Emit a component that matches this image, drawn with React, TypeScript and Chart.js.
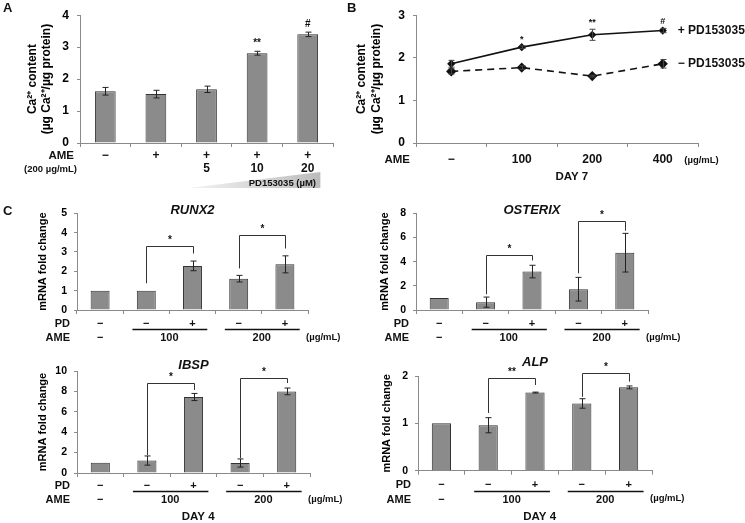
import React, { useEffect, useRef } from 'react';
import { Chart, registerables } from 'chart.js';

Chart.register(...registerables);

const FONT = '"Liberation Sans", Arial, Helvetica, sans-serif';
const AXIS = '#8a8a8a';
const BAR_FILL = '#8b8b8b';
const BAR_EDGE = '#333333';
const INK = '#111111';

// ---------- Panel A : Ca2+ content, AME 200 µg/mL + PD153035 ----------
const A_AME = ['−', '+', '+', '+', '+'];
const A_PD_DOSE = ['', '', '5', '10', '20'];
const A_VALUES = [1.62, 1.53, 1.68, 2.81, 3.4];
const A_ERRORS = [0.12, 0.12, 0.1, 0.06, 0.07];
const A_MARKS = ['', '', '', '**', '#'];

// ---------- Panel B : Ca2+ content, DAY 7 ----------
const B_DOSES = ['−', '100', '200', '400'];
const B_PLUS_PD = [1.86, 2.25, 2.54, 2.64];
const B_PLUS_PD_ERR = [0.08, 0.03, 0.13, 0.05];
const B_MINUS_PD = [1.68, 1.77, 1.57, 1.86];
const B_MINUS_PD_ERR = [0.06, 0.04, 0.02, 0.1];
const B_MARKS = ['', '*', '**', '#'];

// ---------- Panel C : mRNA fold change ----------
const C_PD = ['−', '−', '+', '−', '+'];
const C_AME = ['−', '100', '200'];

const RUNX2_VALUES = [1.0, 1.0, 2.28, 1.62, 2.36];
const RUNX2_ERRORS = [0, 0, 0.25, 0.17, 0.44];
// [from, to, left end, right end, top, label]
const RUNX2_BRACKETS: [number, number, number, number, number, string][] = [
  [1, 2, 1.38, 2.92, 3.33, '*'],
  [3, 4, 2.15, 3.18, 3.9, '*'],
];

const OSTERIX_VALUES = [1.0, 0.65, 3.18, 1.72, 4.74];
const OSTERIX_ERRORS = [0, 0.42, 0.52, 0.98, 1.6];
const OSTERIX_BRACKETS: [number, number, number, number, number, string][] = [
  [1, 2, 1.31, 4.1, 4.59, '*'],
  [3, 4, 3.03, 6.56, 7.38, '*'],
];

const IBSP_VALUES = [1.0, 1.22, 7.45, 0.98, 8.0];
const IBSP_ERRORS = [0, 0.45, 0.35, 0.4, 0.33];
const IBSP_BRACKETS: [number, number, number, number, number, string][] = [
  [1, 2, 1.76, 8.14, 8.82, '*'],
  [3, 4, 1.47, 8.82, 9.34, '*'],
];

const ALP_VALUES = [1.0, 0.96, 1.65, 1.42, 1.76];
const ALP_ERRORS = [0, 0.16, 0.01, 0.1, 0.03];
const ALP_BRACKETS: [number, number, number, number, number, string][] = [
  [1, 2, 1.22, 1.81, 1.96, '**'],
  [3, 4, 1.56, 1.88, 2.07, '*'],
];

const f = (size: number, style = 'bold') => `${style} ${size}px ${FONT}`;

// ---------- plugin drawing error bars, brackets and label rows ----------
const extrasPlugin = {
  id: 'extras',
  afterDatasetsDraw(chart: any, _args: any, o: any) {
    const { ctx, chartArea: ca } = chart;
    const xs = chart.scales.x;
    const ys = chart.scales.y;
    const X = (i: number) => xs.getPixelForValue(i);
    const Y = (v: number) => ys.getPixelForValue(v);
    ctx.save();

    if (o.wedge) {
      const w = o.wedge;
      const x1 = X(w.from);
      const x2 = X(w.to);
      const yb = ca.bottom + w.bottom;
      const yt = ca.bottom + w.top;
      const g = ctx.createLinearGradient(x1, 0, x2, 0);
      g.addColorStop(0, '#f4f4f4');
      g.addColorStop(1, '#bcbcbc');
      ctx.fillStyle = g;
      ctx.beginPath();
      ctx.moveTo(x1, yb);
      ctx.lineTo(x2, yt);
      ctx.lineTo(x2, yb);
      ctx.closePath();
      ctx.fill();
    }

    for (const es of o.errorSets || []) {
      ctx.strokeStyle = es.color || '#222';
      ctx.lineWidth = 1;
      const cap = es.cap || 3;
      es.values.forEach((v: number, i: number) => {
        const e = es.errors[i];
        if (!e) return;
        const px = Math.round(X(i)) + 0.5;
        const y1 = Y(v - e);
        const y2 = Y(v + e);
        ctx.beginPath();
        ctx.moveTo(px, y1);
        ctx.lineTo(px, y2);
        ctx.moveTo(px - cap, y1);
        ctx.lineTo(px + cap, y1);
        ctx.moveTo(px - cap, y2);
        ctx.lineTo(px + cap, y2);
        ctx.stroke();
      });
    }

    for (const m of o.marks || []) {
      ctx.fillStyle = INK;
      ctx.font = m.font;
      ctx.textAlign = 'center';
      ctx.textBaseline = 'bottom';
      m.labels.forEach((t: string, i: number) => {
        if (!t) return;
        ctx.fillText(t, X(i), Y(m.values[i] + m.errors[i]) - m.gap);
      });
    }

    for (const b of o.brackets || []) {
      const [a, c, yl, yr, yt, label] = b;
      const x1 = Math.round(X(a)) + 0.5;
      const x2 = Math.round(X(c)) + 0.5;
      const top = Math.round(Y(yt)) + 0.5;
      ctx.strokeStyle = '#333';
      ctx.lineWidth = 1;
      ctx.beginPath();
      ctx.moveTo(x1, Y(yl));
      ctx.lineTo(x1, top);
      ctx.lineTo(x2, top);
      ctx.lineTo(x2, Y(yr));
      ctx.stroke();
      ctx.fillStyle = INK;
      ctx.font = o.bracketFont;
      ctx.textAlign = 'center';
      ctx.textBaseline = 'bottom';
      ctx.fillText(label, (x1 + x2) / 2, top - 1);
    }

    for (const l of o.lines || []) {
      const yy = Math.round(ca.bottom + l.dy) + 0.5;
      ctx.strokeStyle = '#111';
      ctx.lineWidth = 1.3;
      ctx.beginPath();
      ctx.moveTo(X(l.from), yy);
      ctx.lineTo(X(l.to), yy);
      ctx.stroke();
    }

    for (const t of o.texts || []) {
      let x = 0;
      if (t.i !== undefined) x = X(t.i) + (t.dx || 0);
      else if (t.edge === 'left') x = ca.left + (t.dx || 0);
      else if (t.edge === 'right') x = ca.right + (t.dx || 0);
      else x = t.dx || 0;
      let y = 0;
      if (t.from === 'top') y = ca.top + t.dy;
      else if (t.from === 'abs') y = t.dy;
      else if (t.from === 'value') y = Y(t.v) + t.dy;
      else y = ca.bottom + t.dy;
      ctx.fillStyle = INK;
      ctx.font = t.font;
      ctx.textAlign = t.align || 'center';
      ctx.textBaseline = 'middle';
      ctx.fillText(t.t, x, y);
    }
    ctx.restore();
  },
};

type AxisGeom = {
  yMax: number;
  step: number;
  yWidth: number;
  xHeight: number;
  tickSize: number;
  tickPad: number;
  title: string | string[];
  titleSize: number;
  titleLH: number;
  titlePad: number;
};

function scalesFor(g: AxisGeom) {
  return {
    x: {
      offset: true,
      ticks: { display: false },
      grid: { display: true, offset: true, drawOnChartArea: false, drawTicks: true, tickLength: 4, color: AXIS },
      border: { display: true, color: AXIS, width: 1 },
      afterFit: (s: any) => {
        s.height = g.xHeight;
      },
    },
    y: {
      min: 0,
      max: g.yMax,
      ticks: {
        stepSize: g.step,
        color: '#000',
        padding: g.tickPad,
        font: { family: FONT, size: g.tickSize, weight: 'bold' },
      },
      grid: { display: true, drawOnChartArea: false, drawTicks: true, tickLength: 3, color: AXIS },
      border: { display: true, color: AXIS, width: 1 },
      title: {
        display: true,
        text: g.title,
        color: '#000',
        font: { family: FONT, size: g.titleSize, weight: 'bold', lineHeight: g.titleLH },
        padding: { top: g.titlePad, bottom: 0 },
      },
      afterFit: (s: any) => {
        s.width = g.yWidth;
      },
    },
  };
}

function baseOptions(g: AxisGeom, pad: { top: number; right: number }, extras: any) {
  return {
    responsive: false,
    maintainAspectRatio: false,
    animation: false,
    devicePixelRatio: 1,
    layout: { padding: { left: 0, top: pad.top, right: pad.right, bottom: 0 } },
    plugins: { legend: { display: false }, tooltip: { enabled: false }, extras },
    scales: scalesFor(g),
  };
}

function barDataset(values: number[]) {
  return {
    data: values,
    backgroundColor: BAR_FILL,
    borderColor: BAR_EDGE,
    borderWidth: 1,
    barPercentage: 0.41,
    categoryPercentage: 1,
  };
}

// ---------- Panel A config ----------
function panelA() {
  const texts: any[] = [
    { t: 'A', edge: 'abs', dx: 3, from: 'abs', dy: 8, font: f(13), align: 'left' },
    { t: 'AME', edge: 'left', dx: -6, dy: 13, font: f(11.5), align: 'right' },
    { t: '(200 µg/mL)', edge: 'left', dx: -3, dy: 26, font: f(9.5), align: 'right' },
    { t: 'PD153035 (µM)', i: 3.5, dy: 40, font: f(9.5) },
  ];
  A_AME.forEach((t, i) => texts.push({ t, i, dy: 13, font: f(12) }));
  A_PD_DOSE.forEach((t, i) => t && texts.push({ t, i, dy: 26, font: f(12) }));
  return {
    type: 'bar',
    data: { labels: A_AME.map((s, i) => `${s} ${A_PD_DOSE[i]}`), datasets: [barDataset(A_VALUES)] },
    options: baseOptions(
      {
        yMax: 4, step: 1, yWidth: 80, xHeight: 57, tickSize: 12, tickPad: 8,
        title: ['Ca\u00B2\u207A content', '(µg Ca\u00B2\u207A/µg protein)'], titleSize: 12, titleLH: 1.17, titlePad: 26,
      },
      { top: 13, right: 7 },
      {
        errorSets: [{ values: A_VALUES, errors: A_ERRORS, cap: 3 }],
        marks: [{ labels: A_MARKS, values: A_VALUES, errors: A_ERRORS, gap: 3, font: f(10) }],
        wedge: { from: 1.65, to: 4.25, top: 29, bottom: 45 },
        texts,
      }
    ),
    plugins: [extrasPlugin],
  };
}

// ---------- Panel B config ----------
function panelB() {
  const texts: any[] = [
    { t: 'B', edge: 'abs', dx: 7, from: 'abs', dy: 8, font: f(13), align: 'left' },
    { t: 'AME', edge: 'left', dx: -6, dy: 17, font: f(11.5), align: 'right' },
    { t: '(µg/mL)', i: 3.55, dy: 17, font: f(9.5) },
    { t: 'DAY 7', i: 1.71, dy: 34, font: f(11.5) },
    { t: '+ PD153035', i: 3, dx: 15, from: 'value', v: B_PLUS_PD[3], dy: 0, font: f(12), align: 'left' },
    { t: '− PD153035', i: 3, dx: 15, from: 'value', v: B_MINUS_PD[3], dy: 0, font: f(12), align: 'left' },
  ];
  B_DOSES.forEach((t, i) => texts.push({ t, i, dy: 17, font: f(12) }));
  return {
    type: 'line',
    data: {
      labels: B_DOSES,
      datasets: [
        {
          data: B_PLUS_PD, borderColor: INK, borderWidth: 1.6, pointStyle: 'rectRot', pointRadius: 3,
          pointBackgroundColor: INK, pointBorderColor: INK, tension: 0,
        },
        {
          data: B_MINUS_PD, borderColor: INK, borderWidth: 1.6, borderDash: [7, 5], pointStyle: 'rectRot', pointRadius: 4,
          pointBackgroundColor: INK, pointBorderColor: INK, tension: 0,
        },
      ],
    },
    options: baseOptions(
      {
        yMax: 3, step: 1, yWidth: 76, xHeight: 57, tickSize: 12, tickPad: 8,
        title: ['Ca\u00B2\u207A content', '(µg Ca\u00B2\u207A/µg protein)'], titleSize: 12, titleLH: 1.25, titlePad: 14.5,
      },
      { top: 14, right: 47 },
      {
        errorSets: [
          { values: B_PLUS_PD, errors: B_PLUS_PD_ERR, cap: 3, color: '#444' },
          { values: B_MINUS_PD, errors: B_MINUS_PD_ERR, cap: 3, color: '#444' },
        ],
        marks: [{ labels: B_MARKS, values: B_PLUS_PD, errors: B_PLUS_PD_ERR, gap: 2, font: f(9) }],
        texts,
      }
    ),
    plugins: [extrasPlugin],
  };
}

// ---------- Panel C configs ----------
function panelC(opts: {
  name: string; values: number[]; errors: number[]; brackets: any[]; yMax: number; step: number;
  yWidth: number; xHeight: number; top: number; right: number; titlePad: number; titleDy: number;
  rowDy: [number, number, number]; lineDy: number; day: boolean; letter?: boolean;
}) {
  const [pdDy, ameDy, dayDy] = opts.rowDy;
  const texts: any[] = [
    { t: opts.name, i: 2, from: 'top', dy: opts.titleDy, font: f(13, 'italic bold') },
    { t: 'PD', edge: 'left', dx: -7, dy: pdDy, font: f(11), align: 'right' },
    { t: 'AME', edge: 'left', dx: -7, dy: ameDy, font: f(11), align: 'right' },
    { t: '(µg/mL)', edge: 'right', dx: -2, dy: ameDy - 1, font: f(9.5), align: 'left' },
    { t: C_AME[0], i: 0, dy: ameDy, font: f(11) },
    { t: C_AME[1], i: 1.5, dy: ameDy, font: f(11) },
    { t: C_AME[2], i: 3.5, dy: ameDy, font: f(11) },
  ];
  if (opts.letter) texts.push({ t: 'C', edge: 'abs', dx: 3, from: 'abs', dy: 11, font: f(13), align: 'left' });
  if (opts.day) texts.push({ t: 'DAY 4', i: 2.1, dy: dayDy, font: f(11.5) });
  C_PD.forEach((t, i) => texts.push({ t, i, dy: pdDy, font: f(11) }));
  return {
    type: 'bar',
    data: { labels: C_PD, datasets: [barDataset(opts.values)] },
    options: baseOptions(
      {
        yMax: opts.yMax, step: opts.step, yWidth: opts.yWidth, xHeight: opts.xHeight, tickSize: 10.5, tickPad: 7,
        title: 'mRNA fold change', titleSize: 11, titleLH: 1.2, titlePad: opts.titlePad,
      },
      { top: opts.top, right: opts.right },
      {
        errorSets: [{ values: opts.values, errors: opts.errors, cap: 3 }],
        brackets: opts.brackets,
        bracketFont: f(10),
        lines: [
          { from: 0.7, to: 2.32, dy: opts.lineDy },
          { from: 2.7, to: 4.32, dy: opts.lineDy },
        ],
        texts,
      }
    ),
    plugins: [extrasPlugin],
  };
}

const PANELS = [
  { key: 'A', left: 0, top: 0, width: 340, height: 200, make: panelA },
  { key: 'B', left: 340, top: 0, width: 405, height: 200, make: panelB },
  {
    key: 'RUNX2', left: 0, top: 200, width: 370, height: 150,
    make: () => panelC({
      name: 'RUNX2', values: RUNX2_VALUES, errors: RUNX2_ERRORS, brackets: RUNX2_BRACKETS, yMax: 5, step: 1,
      yWidth: 77, xHeight: 40, top: 12.5, right: 62, titlePad: 36.4, titleDy: -3,
      rowDy: [14, 28, 45], lineDy: 19, day: false, letter: true,
    }),
  },
  {
    key: 'OSTERIX', left: 370, top: 200, width: 375, height: 150,
    make: () => panelC({
      name: 'OSTERIX', values: OSTERIX_VALUES, errors: OSTERIX_ERRORS, brackets: OSTERIX_BRACKETS, yMax: 8, step: 2,
      yWidth: 46, xHeight: 40, top: 12.4, right: 97, titlePad: 8.4, titleDy: -3,
      rowDy: [14, 28, 45], lineDy: 19, day: false,
    }),
  },
  {
    key: 'IBSP', left: 0, top: 350, width: 370, height: 173,
    make: () => panelC({
      name: 'IBSP', values: IBSP_VALUES, errors: IBSP_ERRORS, brackets: IBSP_BRACKETS, yMax: 10, step: 2,
      yWidth: 77, xHeight: 50, top: 21, right: 60, titlePad: 36.4, titleDy: -5.5,
      rowDy: [13, 27, 44], lineDy: 18, day: true,
    }),
  },
  {
    key: 'ALP', left: 370, top: 350, width: 375, height: 173,
    make: () => panelC({
      name: 'ALP', values: ALP_VALUES, errors: ALP_ERRORS, brackets: ALP_BRACKETS, yMax: 2, step: 1,
      yWidth: 48, xHeight: 52.3, top: 26, right: 93, titlePad: 10.4, titleDy: -13.5,
      rowDy: [14.5, 29, 46.5], lineDy: 20, day: true,
    }),
  },
];

function Panel({ p }: { p: (typeof PANELS)[number] }) {
  const ref = useRef<HTMLCanvasElement | null>(null);
  useEffect(() => {
    if (!ref.current) return;
    const chart = new Chart(ref.current, p.make() as any);
    return () => chart.destroy();
  }, []);
  return (
    <canvas
      ref={ref}
      width={p.width}
      height={p.height}
      style={{ position: 'absolute', left: p.left, top: p.top, width: p.width, height: p.height }}
    />
  );
}

export default function App() {
  return (
    <div style={{ position: 'fixed', left: 0, top: 0, width: 745, height: 523, background: '#ffffff', overflow: 'hidden' }}>
      {PANELS.map((p) => (
        <Panel key={p.key} p={p} />
      ))}
    </div>
  );
}
